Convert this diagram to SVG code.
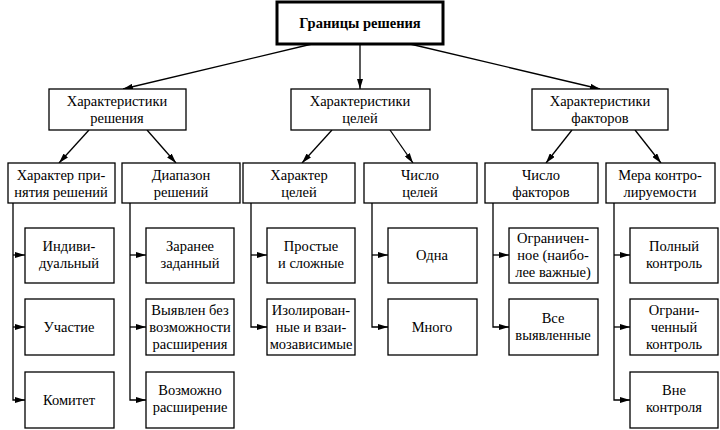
<svg xmlns="http://www.w3.org/2000/svg" width="720" height="430" viewBox="0 0 720 430">
<style>
rect{fill:#fff;stroke:#000;stroke-width:1.3}
text{font-family:"Liberation Serif","Times New Roman","DejaVu Serif",serif;font-size:14.5px;text-anchor:middle;fill:#000}
.c line,.c path{stroke:#000;stroke-width:1.3;fill:none}
</style>
<defs><marker id="a" viewBox="0 0 10 6" refX="10" refY="3" markerWidth="10" markerHeight="6" markerUnits="userSpaceOnUse" orient="auto"><path d="M0,0L10,3L0,6z" fill="#000"/></marker></defs>
<rect width="720" height="430" style="stroke:none"/>
<g class="c">
<line x1="312" y1="44" x2="123" y2="89" marker-end="url(#a)"/>
<line x1="360" y1="44" x2="360" y2="89" marker-end="url(#a)"/>
<line x1="410" y1="44" x2="600" y2="89" marker-end="url(#a)"/>
<line x1="89" y1="130" x2="59" y2="163" marker-end="url(#a)"/>
<line x1="147" y1="130" x2="176" y2="163" marker-end="url(#a)"/>
<line x1="332" y1="130" x2="302" y2="163" marker-end="url(#a)"/>
<line x1="390" y1="130" x2="413" y2="163" marker-end="url(#a)"/>
<line x1="572" y1="130" x2="546" y2="163" marker-end="url(#a)"/>
<line x1="635" y1="130" x2="661" y2="163" marker-end="url(#a)"/>
<path d="M13,203V400H25" marker-end="url(#a)"/>
<line x1="13" y1="255" x2="25" y2="255" marker-end="url(#a)"/>
<line x1="13" y1="327" x2="25" y2="327" marker-end="url(#a)"/>
<path d="M130,203V400H146" marker-end="url(#a)"/>
<line x1="130" y1="255" x2="146" y2="255" marker-end="url(#a)"/>
<line x1="130" y1="327" x2="146" y2="327" marker-end="url(#a)"/>
<path d="M251,203V327H267" marker-end="url(#a)"/>
<line x1="251" y1="255" x2="267" y2="255" marker-end="url(#a)"/>
<path d="M372,203V327H388" marker-end="url(#a)"/>
<line x1="372" y1="255" x2="388" y2="255" marker-end="url(#a)"/>
<path d="M493,203V327H509" marker-end="url(#a)"/>
<line x1="493" y1="255" x2="509" y2="255" marker-end="url(#a)"/>
<path d="M614,203V400H630" marker-end="url(#a)"/>
<line x1="614" y1="255" x2="630" y2="255" marker-end="url(#a)"/>
<line x1="614" y1="327" x2="630" y2="327" marker-end="url(#a)"/>
</g>
<g id="root"><rect x="277" y="2" width="166" height="42" style="stroke-width:3"/><text x="360" y="28" font-weight="bold">Границы решения</text></g>
<g id="n1"><rect x="49" y="89" width="137" height="41"/><text x="117" y="106">Характеристики</text><text x="117" y="123">решения</text></g>
<g id="n2"><rect x="291" y="89" width="139" height="41"/><text x="360" y="106">Характеристики</text><text x="360" y="123">целей</text></g>
<g id="n3"><rect x="532" y="89" width="136" height="41"/><text x="600" y="106">Характеристики</text><text x="600" y="123">факторов</text></g>
<g id="a1"><rect x="8" y="163" width="107" height="40"/><text x="61" y="180">Характер при-</text><text x="61" y="197">нятия решений</text></g>
<g id="b1"><rect x="122" y="163" width="118" height="40"/><text x="181" y="180">Диапазон</text><text x="181" y="197">решений</text></g>
<g id="c1"><rect x="243" y="163" width="112" height="40"/><text x="299" y="180">Характер</text><text x="299" y="197">целей</text></g>
<g id="d1"><rect x="364" y="163" width="113" height="40"/><text x="420" y="180">Число</text><text x="420" y="197">целей</text></g>
<g id="e1"><rect x="485" y="163" width="113" height="40"/><text x="541" y="180">Число</text><text x="541" y="197">факторов</text></g>
<g id="f1"><rect x="606" y="163" width="109" height="40"/><text x="660" y="180">Мера контро-</text><text x="660" y="197">лируемости</text></g>
<g id="a2"><rect x="25" y="228" width="89" height="55"/><text x="69" y="251">Индиви-</text><text x="69" y="268">дуальный</text></g>
<g id="a3"><rect x="25" y="299" width="89" height="56"/><text x="69" y="332">Участие</text></g>
<g id="a4"><rect x="25" y="372" width="89" height="56"/><text x="69" y="405">Комитет</text></g>
<g id="b2"><rect x="146" y="228" width="88" height="55"/><text x="190" y="251">Заранее</text><text x="190" y="268">заданный</text></g>
<g id="b3"><rect x="146" y="299" width="88" height="56"/><text x="190" y="315">Выявлен без</text><text x="190" y="332">возможности</text><text x="190" y="349">расширения</text></g>
<g id="b4"><rect x="146" y="372" width="88" height="56"/><text x="190" y="395">Возможно</text><text x="190" y="412">расширение</text></g>
<g id="c2"><rect x="267" y="228" width="88" height="55"/><text x="311" y="251">Простые</text><text x="311" y="268">и сложные</text></g>
<g id="c3"><rect x="267" y="299" width="88" height="56"/><text x="311" y="315">Изолирован-</text><text x="311" y="332">ные и взаи-</text><text x="311" y="349">мозависимые</text></g>
<g id="d2"><rect x="388" y="228" width="89" height="55"/><text x="432" y="260">Одна</text></g>
<g id="d3"><rect x="388" y="299" width="89" height="56"/><text x="432" y="332">Много</text></g>
<g id="e2"><rect x="509" y="228" width="89" height="55"/><text x="553" y="243">Ограничен-</text><text x="553" y="260">ное (наибо-</text><text x="553" y="277">лее важные)</text></g>
<g id="e3"><rect x="509" y="299" width="89" height="56"/><text x="553" y="323">Все</text><text x="553" y="340">выявленные</text></g>
<g id="f2"><rect x="630" y="228" width="88" height="55"/><text x="674" y="251">Полный</text><text x="674" y="268">контроль</text></g>
<g id="f3"><rect x="630" y="299" width="88" height="56"/><text x="674" y="315">Ограни-</text><text x="674" y="332">ченный</text><text x="674" y="349">контроль</text></g>
<g id="f4"><rect x="630" y="372" width="88" height="56"/><text x="674" y="395">Вне</text><text x="674" y="412">контроля</text></g>
</svg>
